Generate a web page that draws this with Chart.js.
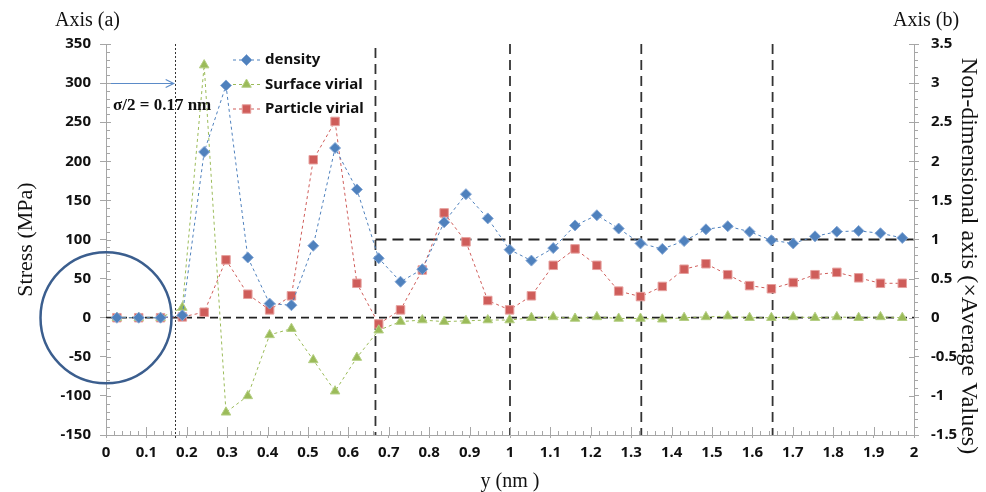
<!DOCTYPE html>
<html><head><meta charset="utf-8">
<script src="https://cdn.jsdelivr.net/npm/chart.js@4.4.0/dist/chart.umd.min.js"></script>
<style>html,body{margin:0;padding:0;background:#fff;}</style>
</head><body>
<canvas id="c" width="986" height="492"></canvas>
<script>
// ---- data ----
const positions = [0.027,0.081,0.135,0.189,0.243,0.297,0.351,0.405,0.459,0.513,0.567,0.621,0.675,0.729,0.783,0.837,0.891,0.945,0.999,1.053,1.107,1.161,1.215,1.269,1.323,1.377,1.431,1.485,1.539,1.593,1.647,1.701,1.755,1.809,1.863,1.917,1.971];
// density on Axis (b), non-dimensional
const density = [0,0,0,0.03,2.12,2.97,0.77,0.18,0.16,0.92,2.17,1.64,0.76,0.46,0.62,1.22,1.58,1.27,0.87,0.73,0.89,1.18,1.31,1.14,0.95,0.88,0.98,1.13,1.17,1.10,0.99,0.95,1.04,1.10,1.11,1.08,1.02];
// stresses on Axis (a), MPa
const surfaceVirial = [0,0,0,13,323,-121,-100,-22,-14,-54,-94,-51,-16,-5,-3,-5,-4,-3,-3,0,1,-1,1,-1,-1,-2,0,1,2,0,0,1,0,1,0,1,0];
const particleVirial = [0,0,0,1,7,74,30,10,28,202,251,44,-8,10,61,134,97,22,10,28,67,88,67,34,27,40,62,69,55,41,37,45,55,58,51,44,44];
const seriesNames = ['density','Surface virial','Particle virial'];
const sigmaHalf = 0.17;            // dotted line
const layerLines = [0.667,1.0,1.325,1.65]; // long dashed verticals
const arrowLevel = 300;            // MPa level of the arrow
const avgLevel = 1;                // axis (b) reference line

const FAM = '"Noto Sans", "Open Sans", sans-serif';
const TICKFONT = {family:FAM, size:15, weight:'bold'};
const AXC = '#a6a6a6';

const mk = (arr)=>positions.map((x,i)=>({x:x,y:arr[i]}));
const styles = [
  {color:'#4f81bd', border:'#86a8d6', style:'rectRot', r:5.5},
  {color:'#9bbb59', border:'#b5cf84', style:'triangle', r:5.5},
  {color:'#cf5d5a', border:'#e6a09e', style:'rect', r:6}
];

const decor = {
  id:'decor',
  beforeDatasetsDraw(chart){
    const ctx=chart.ctx, x=chart.scales.x, y=chart.scales.y, y2=chart.scales.y2, a=chart.chartArea;
    ctx.save();
    ctx.strokeStyle='#333'; ctx.lineWidth=1; ctx.setLineDash([2,2]);
    let px=Math.round(x.getPixelForValue(sigmaHalf))+0.5;
    ctx.beginPath(); ctx.moveTo(px,a.top); ctx.lineTo(px,a.bottom+5); ctx.stroke();
    ctx.strokeStyle='#222'; ctx.lineWidth=1.8; ctx.setLineDash([8,5]);
    let py=y.getPixelForValue(0);
    ctx.beginPath(); ctx.moveTo(a.left,py); ctx.lineTo(a.right,py); ctx.stroke();
    ctx.setLineDash([11,6]);
    py=y2.getPixelForValue(avgLevel);
    ctx.beginPath(); ctx.moveTo(x.getPixelForValue(layerLines[0]),py); ctx.lineTo(a.right+5,py); ctx.stroke();
    ctx.strokeStyle='#333'; ctx.lineWidth=1.8; ctx.setLineDash([10,6]);
    layerLines.forEach((v,i)=>{
      const xx=x.getPixelForValue(v);
      ctx.beginPath(); ctx.moveTo(xx,a.top+(i===0?4:0)); ctx.lineTo(xx,a.bottom); ctx.stroke();
    });
    ctx.restore();
  },
  afterDatasetsDraw(chart){
    const ctx=chart.ctx, x=chart.scales.x, y=chart.scales.y;
    ctx.save();
    ctx.strokeStyle='#3b5e8e'; ctx.lineWidth=2.5;
    ctx.beginPath(); ctx.arc(x.getPixelForValue(0), y.getPixelForValue(0), 65.5, 0, Math.PI*2); ctx.stroke();
    const ay=Math.round(y.getPixelForValue(arrowLevel))+0.5, ax0=x.getPixelForValue(0)+1, ax1=x.getPixelForValue(sigmaHalf)-1;
    ctx.strokeStyle='#5b8bc8'; ctx.lineWidth=1.2;
    ctx.beginPath(); ctx.moveTo(ax0,ay); ctx.lineTo(ax1,ay); ctx.stroke();
    ctx.beginPath(); ctx.moveTo(ax1-8,ay-4); ctx.lineTo(ax1,ay); ctx.lineTo(ax1-8,ay+4); ctx.stroke();
    ctx.fillStyle='#111'; ctx.font='bold 17px "Liberation Serif", serif'; ctx.textAlign='left'; ctx.textBaseline='alphabetic';
    ctx.fillText('\u03C3/2 = 0.17 nm', 113, 110);
    ctx.restore();
  },
  afterDraw(chart){
    const ctx=chart.ctx, x=chart.scales.x, y=chart.scales.y, y2=chart.scales.y2, a=chart.chartArea;
    ctx.save();
    ctx.strokeStyle=AXC; ctx.lineWidth=1;
    for(let i=0;i<=100;i++){
      const v=i*0.02, xx=Math.round(x.getPixelForValue(v))+0.5;
      const major=(i%5===0);
      ctx.beginPath(); ctx.moveTo(xx,a.bottom); ctx.lineTo(xx,a.bottom-(major?8:4)); ctx.stroke();
    }
    for(let i=0;i<=50;i++){
      const v=-150+i*10, yy=Math.round(y.getPixelForValue(v))+0.5;
      const major=(i%5===0);
      ctx.beginPath(); ctx.moveTo(a.left,yy); ctx.lineTo(a.left+(major?5:4),yy); ctx.stroke();
    }
    for(let i=0;i<=50;i++){
      const v=-1.5+i*0.1, yy=Math.round(y2.getPixelForValue(v))+0.5;
      const major=(i%5===0);
      ctx.beginPath(); ctx.moveTo(a.right,yy); ctx.lineTo(a.right-(major?5:0),yy); ctx.stroke();
      if(!major){ctx.beginPath(); ctx.moveTo(a.right,yy); ctx.lineTo(a.right+4,yy); ctx.stroke();}
    }
    ctx.fillStyle='#111'; ctx.textBaseline='alphabetic';
    ctx.font='20px "Liberation Serif", serif'; ctx.textAlign='left';
    ctx.fillText('Axis (a)', 55, 26);
    ctx.fillText('Axis (b)', 893, 26);
    ctx.textAlign='center';
    ctx.fillText('y (nm )', 510, 487);
    ctx.save(); ctx.translate(32, (a.top+a.bottom)/2); ctx.rotate(-Math.PI/2);
    ctx.font='22px "Liberation Serif", serif'; ctx.fillText('Stress (MPa)',0,0); ctx.restore();
    ctx.save(); ctx.translate(962, 256); ctx.rotate(Math.PI/2);
    ctx.font='24px "Liberation Serif", serif'; ctx.fillText('Non-dimensional axis (\u00D7Average Values)',0,0); ctx.restore();
    const rows=[60,84.5,109];
    rows.forEach((ry,i)=>{
      const s=styles[i];
      ctx.strokeStyle=s.color; ctx.lineWidth=1; ctx.setLineDash([3,3]);
      ctx.beginPath(); ctx.moveTo(233,ry); ctx.lineTo(260,ry); ctx.stroke();
      ctx.setLineDash([]);
      ctx.fillStyle=s.color; ctx.strokeStyle=s.border;
      Chart.helpers.drawPoint(ctx,{pointStyle:s.style,radius:s.r,rotation:0,borderWidth:1},246.5,ry);
      ctx.fillStyle='#111'; ctx.font='bold 15px '+FAM; ctx.textAlign='left'; ctx.textBaseline='middle';
      ctx.fillText(seriesNames[i], 265, ry);
    });
    ctx.restore();
  }
};

const ds = (label,data,axis,s)=>({
  label, data, yAxisID:axis, borderColor:s.color, borderWidth:1, borderDash:[3,3],
  pointStyle:s.style, pointRadius:s.r, pointBackgroundColor:s.color, pointBorderColor:s.border, pointBorderWidth:1,
  tension:0, fill:false
});
const fmt = (v)=>String(Math.round(v*100)/100);

new Chart(document.getElementById('c'), {
  type:'line',
  data:{datasets:[
    ds(seriesNames[0], mk(density), 'y2', styles[0]),
    ds(seriesNames[1], mk(surfaceVirial), 'y', styles[1]),
    ds(seriesNames[2], mk(particleVirial), 'y', styles[2])
  ]},
  options:{
    responsive:false, animation:false, devicePixelRatio:1,
    layout:{padding:{top:44,left:0,right:0,bottom:0}},
    plugins:{legend:{display:false}, tooltip:{enabled:false}},
    scales:{
      x:{type:'linear', min:0, max:2,
        ticks:{stepSize:0.1, color:'#111', font:TICKFONT, padding:6, maxRotation:0, autoSkip:false, callback:fmt},
        grid:{display:true, drawOnChartArea:false, drawTicks:true, tickLength:3, color:AXC},
        border:{display:true, color:AXC},
        afterFit:(s)=>{s.height=57;}
      },
      y:{type:'linear', position:'left', min:-150, max:350,
        ticks:{stepSize:50, color:'#111', font:TICKFONT, padding:9, callback:fmt},
        grid:{display:true, drawOnChartArea:false, drawTicks:true, tickLength:6, color:AXC},
        border:{display:true, color:AXC},
        afterFit:(s)=>{s.width=106;}
      },
      y2:{type:'linear', position:'right', min:-1.5, max:3.5,
        ticks:{stepSize:0.5, color:'#111', font:TICKFONT, padding:12, callback:fmt},
        grid:{display:true, drawOnChartArea:false, drawTicks:true, tickLength:5, color:AXC},
        border:{display:true, color:AXC},
        afterFit:(s)=>{s.width=72;}
      }
    }
  },
  plugins:[decor]
});
</script>
</body></html>
